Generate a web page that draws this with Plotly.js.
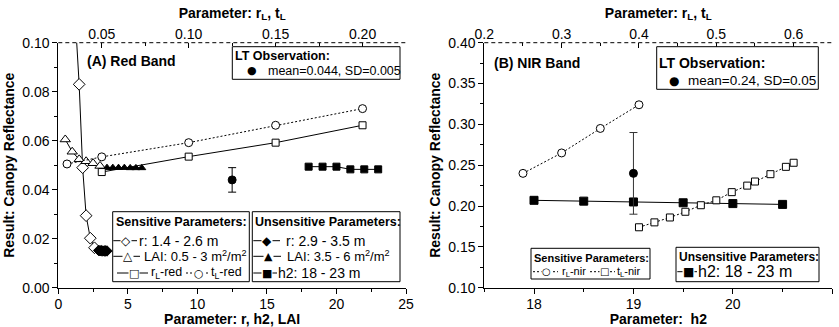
<!DOCTYPE html>
<html>
<head>
<meta charset="utf-8">
<script src="https://cdn.plot.ly/plotly-3.0.1.min.js"></script>
<style>html,body{margin:0;padding:0;background:#fff;}</style>
</head>
<body>
<div id="chart" style="width:839px;height:327px;"></div>
<script>
// ---------- Panel A: Red band ----------
const rSens = [1.2, 1.5, 1.75, 2.0, 2.3, 2.6];
const rSensRed = [0.112, 0.083, 0.049, 0.0294, 0.0202, 0.0163];
const rUnsens = [2.9, 3.0, 3.1, 3.2, 3.3, 3.4, 3.5];
const rUnsensRed = [0.0152, 0.0151, 0.0151, 0.0150, 0.0150, 0.0150, 0.0150];
const laiSens = [0.5, 1.0, 1.5, 2.0, 2.5, 3.0];
const laiSensRed = [0.0605, 0.0555, 0.0524, 0.0516, 0.0508, 0.0497];
const laiUnsens = [3.5, 3.92, 4.33, 4.75, 5.17, 5.58, 6.0];
const laiUnsensRed = [0.0490, 0.0490, 0.0490, 0.0490, 0.0489, 0.0489, 0.0489];
const h2Red = [18, 19, 20, 21, 22, 23];
const h2RedVal = [0.0494, 0.0494, 0.0494, 0.0483, 0.0483, 0.0483];
const rLRed = [0.05, 0.10, 0.15, 0.20];
const rLRedVal = [0.0472, 0.0535, 0.0592, 0.0663];
const tLRed = [0.03, 0.05, 0.10, 0.15, 0.20];
const tLRedVal = [0.0505, 0.0534, 0.0592, 0.0663, 0.0731];
const obsRedX = [12.5];
const obsRedMean = [0.044];
const obsRedSD = [0.005];

// ---------- Panel B: NIR band ----------
const rLNir = [0.25, 0.30, 0.35, 0.40];
const rLNirVal = [0.240, 0.265, 0.295, 0.324];
const tLNir = [0.40, 0.42, 0.44, 0.46, 0.48, 0.50, 0.52, 0.54, 0.55, 0.57, 0.59, 0.60];
const tLNirVal = [0.174, 0.180, 0.186, 0.193, 0.201, 0.207, 0.217, 0.225, 0.230, 0.239, 0.248, 0.253];
const h2Nir = [18, 18.5, 19, 19.5, 20, 20.5];
const h2NirVal = [0.207, 0.206, 0.205, 0.204, 0.203, 0.202];
const obsNirX = [19];
const obsNirMean = [0.24];
const obsNirSD = [0.05];

const FONT = 'Liberation Sans, Arial, sans-serif';
const W = 839, H = 327;
const px = x => x / W;
const py = y => 1 - y / H;

function openMk(sym, size) { return {symbol: sym, size: size, color: 'white', line: {color: 'black', width: 1}}; }
function fillMk(sym, size) { return {symbol: sym, size: size, color: 'black', line: {color: 'black', width: 1}}; }
const solid = {color: 'black', width: 1};
const dotted = {color: 'black', width: 1, dash: '2px,2px'};

const traces = [
  {name: 'r: 1.4 - 2.6 m', x: rSens, y: rSensRed, xaxis: 'x', yaxis: 'y', mode: 'lines+markers', line: solid, marker: openMk('diamond', 9)},
  {name: 'r: 2.9 - 3.5 m', x: rUnsens, y: rUnsensRed, xaxis: 'x', yaxis: 'y', mode: 'lines+markers', line: solid, marker: fillMk('diamond', 8)},
  {name: 'LAI: 0.5 - 3', x: laiSens, y: laiSensRed, xaxis: 'x', yaxis: 'y', mode: 'lines+markers', line: solid, marker: openMk('triangle-up', 9)},
  {name: 'LAI: 3.5 - 6', x: laiUnsens, y: laiUnsensRed, xaxis: 'x', yaxis: 'y', mode: 'lines+markers', line: solid, marker: fillMk('triangle-up', 7)},
  {name: 'rL-red', x: rLRed, y: rLRedVal, xaxis: 'x2', yaxis: 'y', mode: 'lines+markers', line: solid, marker: openMk('square', 7)},
  {name: 'tL-red', x: tLRed, y: tLRedVal, xaxis: 'x2', yaxis: 'y', mode: 'lines+markers', line: dotted, marker: openMk('circle', 8)},
  {name: 'h2: 18 - 23 m', x: h2Red, y: h2RedVal, xaxis: 'x', yaxis: 'y', mode: 'lines+markers', line: solid, marker: fillMk('square', 7)},
  {name: 'LT Observation', x: obsRedX, y: obsRedMean, xaxis: 'x', yaxis: 'y', mode: 'markers', marker: fillMk('circle', 8),
   error_y: {type: 'data', array: obsRedSD, color: 'black', thickness: 1, width: 4}},

  {name: 'rL-nir', x: rLNir, y: rLNirVal, xaxis: 'x4', yaxis: 'y3', mode: 'lines+markers', line: dotted, marker: openMk('circle', 8)},
  {name: 'tL-nir', x: tLNir, y: tLNirVal, xaxis: 'x4', yaxis: 'y3', mode: 'lines+markers', line: dotted, marker: openMk('square', 7)},
  {name: 'h2: 18 - 23 m', x: h2Nir, y: h2NirVal, xaxis: 'x3', yaxis: 'y3', mode: 'lines+markers', line: solid, marker: fillMk('square', 8)},
  {name: 'LT Observation', x: obsNirX, y: obsNirMean, xaxis: 'x3', yaxis: 'y3', mode: 'markers', marker: fillMk('circle', 8),
   error_y: {type: 'data', array: obsNirSD, color: '#333', thickness: 1, width: 4}}
];

const tf = {family: FONT, size: 14, color: 'black'};
const ttl = {family: FONT, size: 14, color: 'black'};
const yDom = [py(287.7), py(42.7)];
const xDomA = [px(58.3), px(406)];
const xDomB = [px(484.3), px(832.3)];

function baseAxis(extra) {
  return Object.assign({
    showgrid: false, zeroline: false, showline: true, linecolor: 'black', linewidth: 1,
    ticks: 'outside', ticklen: 5, tickwidth: 1, tickcolor: 'black', tickfont: tf
  }, extra);
}

const layout = {
  width: W, height: H,
  margin: {l: 0, r: 0, t: 0, b: 0},
  paper_bgcolor: 'white', plot_bgcolor: 'white',
  showlegend: false,
  font: {family: FONT, color: 'black'},
  xaxis: baseAxis({domain: xDomA, anchor: 'y', range: [0, 25], dtick: 5, ticklabelstandoff: -2,
    minor: {dtick: 2.5, ticks: 'outside', ticklen: 3, tickcolor: 'black'},
    title: {text: '<b>Parameter: r, h2, LAI</b>', font: ttl, standoff: 5}}),
  xaxis2: baseAxis({overlaying: 'x', side: 'top', anchor: 'y', range: [0.025, 0.225],
    tickvals: [0.05, 0.10, 0.15, 0.20], tickformat: '.2f', showline: false, ticks: 'inside',
    minor: {tickvals: [0.075, 0.125, 0.175], ticks: 'inside', ticklen: 3, tickcolor: 'black'},
    title: {text: '<b>Parameter: r<sub>L</sub>, t<sub>L</sub></b>', font: ttl, standoff: 4}}),
  yaxis: baseAxis({domain: yDom, anchor: 'x', range: [0, 0.1], dtick: 0.02, tickformat: '.2f',
    minor: {dtick: 0.01, ticks: 'outside', ticklen: 3, tickcolor: 'black'},
    title: {text: '<b>Result: Canopy Reflectance</b>', font: ttl, standoff: 4}}),
  yaxis2: baseAxis({overlaying: 'y', side: 'right', anchor: 'x', range: [0, 0.1], dtick: 0.02,
    ticks: 'inside', showticklabels: false,
    minor: {dtick: 0.01, ticks: 'inside', ticklen: 3, tickcolor: 'black'}}),

  xaxis3: baseAxis({domain: xDomB, anchor: 'y3', range: [17.5, 21], dtick: 1, ticklabelstandoff: -2,
    minor: {dtick: 0.5, ticks: 'outside', ticklen: 3, tickcolor: 'black'},
    title: {text: '<b>Parameter:  h2</b>', font: ttl, standoff: 4}}),
  xaxis4: baseAxis({overlaying: 'x3', side: 'top', anchor: 'y3', range: [0.2, 0.65],
    dtick: 0.1, tickformat: '.1f', showline: false, ticks: 'inside',
    minor: {dtick: 0.05, ticks: 'inside', ticklen: 3, tickcolor: 'black'},
    title: {text: '<b>Parameter: r<sub>L</sub>, t<sub>L</sub></b>', font: ttl, standoff: 4}}),
  yaxis3: baseAxis({domain: yDom, anchor: 'x3', range: [0.1, 0.4], dtick: 0.05, tickformat: '.2f',
    minor: {dtick: 0.025, ticks: 'outside', ticklen: 3, tickcolor: 'black'},
    title: {text: '<b>Result: Canopy Reflectance</b>', font: ttl, standoff: 4}}),
  yaxis4: baseAxis({overlaying: 'y3', side: 'right', anchor: 'x3', range: [0.1, 0.4], dtick: 0.05,
    ticks: 'inside', showticklabels: false,
    minor: {dtick: 0.025, ticks: 'inside', ticklen: 3, tickcolor: 'black'}}),
  shapes: [],
  annotations: []
};

// dashed top frame lines
['x', 'x3'].forEach((xa, i) => {
  const ya = i === 0 ? 'y' : 'y3';
  layout.shapes.push({type: 'line', xref: xa + ' domain', yref: ya + ' domain', x0: 0, x1: 1, y0: 1, y1: 1,
    line: {color: 'black', width: 1, dash: '4px,3px'}});
});

function txt(text, x, y, size, opts) {
  layout.annotations.push(Object.assign({text: text, xref: 'paper', yref: 'paper', x: px(x), y: py(y),
    xanchor: 'left', yanchor: 'middle', showarrow: false, borderpad: 0,
    font: {family: FONT, size: size, color: 'black'}}, opts || {}));
}
function glyph(g, x, y, size) {
  layout.annotations.push({text: g, xref: 'paper', yref: 'paper', x: px(x), y: py(y),
    xanchor: 'center', yanchor: 'middle', showarrow: false, borderpad: 0, bgcolor: 'white',
    font: {family: 'DejaVu Sans', size: size, color: 'black'}});
}
function rect(x0, y0, x1, y1) {
  layout.shapes.push({type: 'rect', xref: 'paper', yref: 'paper', x0: px(x0), x1: px(x1), y0: py(y1), y1: py(y0),
    line: {color: 'black', width: 1}, fillcolor: 'white', layer: 'above'});
}
function hline(x0, x1, y, dash) {
  layout.shapes.push({type: 'line', xref: 'paper', yref: 'paper', x0: px(x0), x1: px(x1), y0: py(y), y1: py(y),
    line: {color: 'black', width: 1, dash: dash || 'solid'}, layer: 'above'});
}

// ----- Panel A decorations -----
txt('<b>(A) Red Band</b>', 86, 61, 14);
rect(232.3, 46.7, 400, 79.3);
txt('<b>LT Observation:</b>', 233.5, 56, 12.5);
glyph('●', 251.7, 70.7, 11);
txt('mean=0.044, SD=0.005', 266.7, 70.7, 12.5);

rect(112.7, 211.7, 249.3, 281.7);
txt('<b>Sensitive Parameters:</b>', 114.5, 222.3, 12.5);
hline(113.3, 137, 240.7); glyph('◇', 125.5, 240.7, 12);
txt('r: 1.4 - 2.6 m', 137.7, 240.7, 14);
hline(113.3, 140, 256.3); glyph('△', 127.7, 256.3, 12);
txt('LAI: 0.5 - 3 m<sup>2</sup>/m<sup>2</sup>', 143, 256.3, 13);
hline(117, 148, 273); glyph('□', 134, 273, 11);
txt('r<sub>L</sub>-red', 150, 273, 12.5);
hline(186, 209, 273, '2px,2px'); glyph('○', 199, 273, 11);
txt('t<sub>L</sub>-red', 210, 273, 12.5);

rect(252.3, 211.7, 400, 281.7);
txt('<b>Unsensitive Parameters:</b>', 254, 222.3, 12.5);
hline(253.3, 280, 240.7); glyph('◆', 266.7, 240.7, 12);
txt('r: 2.9 - 3.5 m', 285, 240.7, 14);
hline(253.3, 281, 256.3); glyph('▲', 268.3, 256.3, 11);
txt('LAI: 3.5 - 6 m<sup>2</sup>/m<sup>2</sup>', 286, 256.3, 13);
hline(253.3, 277, 273); glyph('■', 267.3, 273, 11);
txt('h2: 18 - 23 m', 277.3, 273, 14);

// ----- Panel B decorations -----
txt('<b>(B) NIR Band</b>', 492.7, 63.3, 14);
rect(656.7, 46.7, 818.3, 89.3);
txt('<b>LT Observation:</b>', 658, 63.3, 14);
glyph('●', 674, 80.7, 12);
txt('mean=0.24, SD=0.05', 686.7, 80.7, 13.5);

rect(531, 248.3, 650, 279);
txt('<b>Sensitive Parameters:</b>', 533, 258.3, 11);
hline(533, 558, 271.7, '2px,2px'); glyph('○', 546.7, 271.7, 10);
txt('r<sub>L</sub>-nir', 561, 271.7, 11);
hline(590, 615, 271.7, '2px,2px'); glyph('□', 604, 271.7, 10);
txt('t<sub>L</sub>-nir', 616, 271.7, 11);

rect(676, 247.3, 819, 281.7);
txt('<b>Unsensitive Parameters:</b>', 677.5, 256.7, 12);
hline(677.3, 697, 271.7); glyph('■', 688, 271.7, 12);
txt('h2: 18 - 23 m', 697, 271.7, 16);

Plotly.newPlot('chart', traces, layout, {displayModeBar: false, staticPlot: true});
</script>
</body>
</html>
